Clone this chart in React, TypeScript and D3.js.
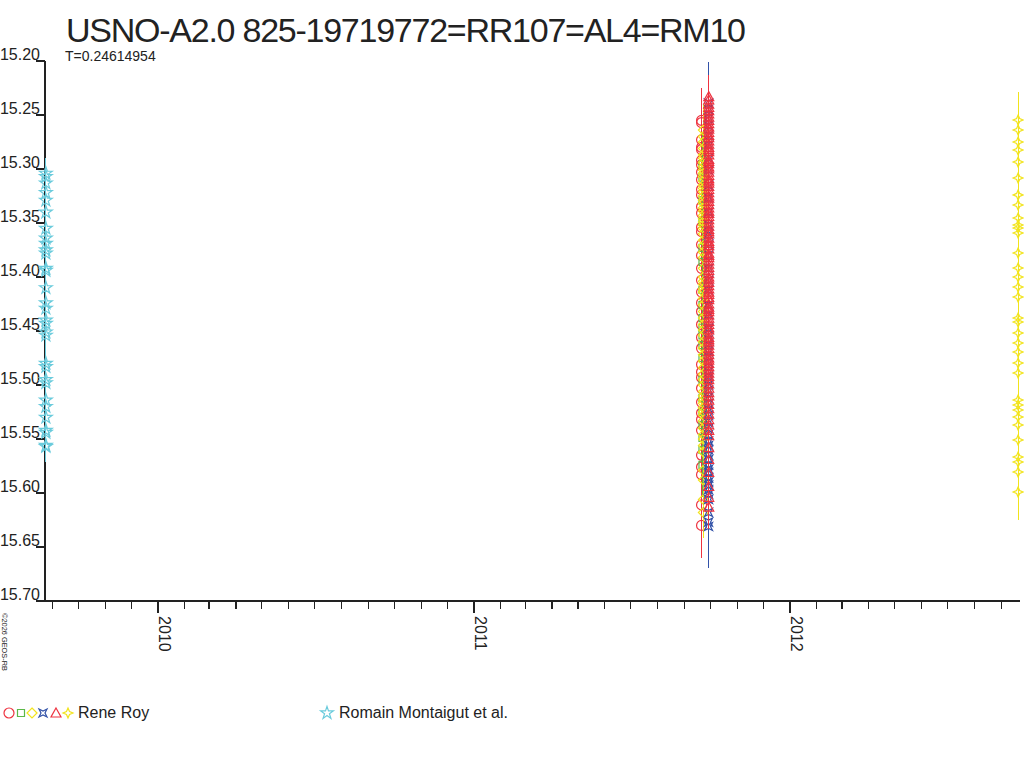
import * as d3 from "d3";

const TITLE = "USNO-A2.0 825-19719772=RR107=AL4=RM10";
const PERIOD_LABEL = "T=0.24614954";
const COPYRIGHT = "©2026 GEOS-RB";

const yTickValues = [15.2, 15.25, 15.3, 15.35, 15.4, 15.45, 15.5, 15.55, 15.6, 15.65, 15.7];
const xStart = "2009-08-23T12:00Z";
const xEnd = "2012-09-22T14:00Z";

// Romain Montaigut et al. (one night)
const rmDate = "2009-08-24T12:00Z";
const rmMags = [15.304, 15.307, 15.313, 15.322, 15.329, 15.34, 15.355, 15.364, 15.369, 15.375, 15.378, 15.392, 15.394, 15.41, 15.424, 15.429, 15.44, 15.443, 15.451, 15.454, 15.48, 15.483, 15.495, 15.498, 15.514, 15.52, 15.53, 15.542, 15.544, 15.556, 15.557];

// Rene Roy sessions
const rrCircleDate = "2011-09-20T19:00Z";
const rrCircleMags = [15.255, 15.257, 15.273, 15.28, 15.282, 15.292, 15.296, 15.303, 15.31, 15.319, 15.324, 15.335, 15.341, 15.354, 15.358, 15.37, 15.38, 15.392, 15.403, 15.414, 15.424, 15.432, 15.444, 15.456, 15.466, 15.481, 15.488, 15.493, 15.503, 15.516, 15.526, 15.532, 15.542, 15.565, 15.576, 15.583, 15.611, 15.63];

const rrSquareDate = "2011-09-21T21:00Z";
const rrSquareMags = [15.296, 15.308, 15.329, 15.349, 15.373, 15.386, 15.412, 15.426, 15.438, 15.447, 15.454, 15.463, 15.475, 15.495, 15.512, 15.525, 15.537, 15.549, 15.56, 15.574];

const rrDiamondDate = "2011-09-22T22:00Z";
const rrDiamondMags = [15.264, 15.27, 15.275, 15.281, 15.287, 15.29, 15.294, 15.298, 15.301, 15.304, 15.307, 15.311, 15.315, 15.318, 15.321, 15.325, 15.329, 15.332, 15.336, 15.339, 15.343, 15.346, 15.349, 15.352, 15.355, 15.36, 15.366, 15.371, 15.377, 15.382, 15.392, 15.4, 15.404, 15.407, 15.411, 15.414, 15.42, 15.426, 15.432, 15.438, 15.444, 15.449, 15.454, 15.46, 15.466, 15.472, 15.478, 15.484, 15.49, 15.495, 15.5, 15.506, 15.51, 15.514, 15.517, 15.521, 15.525, 15.528, 15.533, 15.54, 15.546, 15.55, 15.556, 15.562, 15.579, 15.588, 15.606, 15.618];

const rrCrossDate = "2011-09-28T20:00Z";
const rrCrossMags = [15.239, 15.245, 15.253, 15.26, 15.269, 15.278, 15.29, 15.301, 15.315, 15.327, 15.34, 15.352, 15.361, 15.37, 15.38, 15.392, 15.403, 15.412, 15.426, 15.435, 15.447, 15.448, 15.458, 15.462, 15.469, 15.474, 15.479, 15.488, 15.492, 15.5, 15.505, 15.512, 15.517, 15.523, 15.528, 15.534, 15.54, 15.546, 15.552, 15.556, 15.56, 15.565, 15.569, 15.574, 15.578, 15.581, 15.586, 15.59, 15.593, 15.597, 15.601, 15.606, 15.618, 15.627, 15.631];

const rrTriangleDate = "2011-09-29T02:00Z";
const rrTriangleMags = [15.233, 15.236, 15.24, 15.243, 15.246, 15.249, 15.252, 15.255, 15.258, 15.261, 15.263, 15.266, 15.269, 15.271, 15.274, 15.277, 15.28, 15.282, 15.284, 15.287, 15.291, 15.293, 15.295, 15.298, 15.3, 15.303, 15.306, 15.309, 15.311, 15.313, 15.316, 15.319, 15.322, 15.325, 15.327, 15.33, 15.333, 15.336, 15.339, 15.341, 15.344, 15.347, 15.35, 15.353, 15.356, 15.358, 15.36, 15.364, 15.367, 15.369, 15.371, 15.374, 15.378, 15.38, 15.382, 15.385, 15.388, 15.391, 15.394, 15.397, 15.4, 15.402, 15.405, 15.408, 15.411, 15.414, 15.416, 15.419, 15.421, 15.425, 15.428, 15.43, 15.432, 15.435, 15.438, 15.441, 15.444, 15.447, 15.449, 15.453, 15.456, 15.458, 15.46, 15.463, 15.466, 15.469, 15.472, 15.475, 15.477, 15.48, 15.483, 15.486, 15.489, 15.492, 15.495, 15.499, 15.503, 15.507, 15.51, 15.514, 15.518, 15.522, 15.527, 15.532, 15.537, 15.542, 15.547, 15.558, 15.569, 15.581, 15.594, 15.604, 15.613];

const rrStar4Date = "2012-09-20T10:00Z";
const rrStar4Mags = [15.2546, 15.2639, 15.275, 15.2824, 15.2935, 15.3083, 15.324, 15.3333, 15.3454, 15.3519, 15.3546, 15.3593, 15.3778, 15.3917, 15.4, 15.4093, 15.4185, 15.438, 15.4417, 15.4519, 15.4611, 15.4694, 15.4796, 15.4889, 15.5139, 15.5185, 15.5231, 15.5296, 15.537, 15.5509, 15.5667, 15.5713, 15.5806, 15.5991];

const RED = "#ee3340";
const GREEN = "#5cb848";
const YELLOW = "#f2e41c";
const BLUE = "#3252a8";
const CYAN = "#6acbdc";

function symbolPath(kind: string): string {
  switch (kind) {
    case "circle":
      return "M5,0A5,5 0 1,1 -5,0A5,5 0 1,1 5,0Z";
    case "square":
      return "M-3.5,-3.5H3.5V3.5H-3.5Z";
    case "diamond":
      return "M0,-5L5,0L0,5L-5,0Z";
    case "cross":
      return "M-4,-4L0,-2L4,-4L2,0L4,4L0,2L-4,4L-2,0Z";
    case "triangle":
      return "M0,-5L5,4L-5,4Z";
    case "star4":
      return "M0,-5L1.5,-1.5L5,0L1.5,1.5L0,5L-1.5,1.5L-5,0L-1.5,-1.5Z";
    default:
      return d3.symbol(d3.symbolStar, 50)() || "";
  }
}

const series = [
  { key: "rm", date: rmDate, mags: rmMags, err: 0.014, color: CYAN, kind: "star" },
  { key: "circle", date: rrCircleDate, mags: rrCircleMags, err: 0.03, color: RED, kind: "circle" },
  { key: "square", date: rrSquareDate, mags: rrSquareMags, err: 0.03, color: GREEN, kind: "square" },
  { key: "diamond", date: rrDiamondDate, mags: rrDiamondMags, err: 0.024, color: YELLOW, kind: "diamond" },
  { key: "cross", date: rrCrossDate, mags: rrCrossMags, err: 0.038, color: BLUE, kind: "cross" },
  { key: "triangle", date: rrTriangleDate, mags: rrTriangleMags, err: 0.02, color: RED, kind: "triangle" },
  { key: "star4", date: rrStar4Date, mags: rrStar4Mags, err: 0.026, color: YELLOW, kind: "star4" },
];

const FONT = "'Liberation Sans', Arial, sans-serif";

export default function App() {
  const width = 1024;
  const height = 768;

  const x = d3.scaleUtc().domain([new Date(xStart), new Date(xEnd)]).range([45, 1020]);
  const y = d3.scaleLinear().domain([15.2, 15.7]).range([61, 601]);

  const months = d3.utcMonth.range(new Date(xStart), new Date(xEnd));

  return (
    <div style={{ position: "absolute", left: 0, top: 0, width, height, background: "#fff" }}>
      <svg width={width} height={height} style={{ display: "block" }} fontFamily={FONT}>
        <rect width={width} height={height} fill="#fff" />

        <text x={66} y={42} fontSize={34} fill="#222" textLength={680} lengthAdjust="spacing">
          {TITLE}
        </text>
        <text x={65} y={61} fontSize={14} fill="#222">
          {PERIOD_LABEL}
        </text>

        {/* axes */}
        <g shapeRendering="crispEdges" stroke="#222" strokeWidth={1.2}>
          <line x1={45} x2={45} y1={y(15.2)} y2={y(15.7)} />
          <line x1={36} x2={1020} y1={y(15.7)} y2={y(15.7)} />
          {yTickValues.map((v) => (
            <line key={v} x1={36} x2={45} y1={y(v)} y2={y(v)} />
          ))}
          {months.map((m) => {
            const isYear = m.getUTCMonth() === 0;
            return <line key={+m} x1={x(m)} x2={x(m)} y1={y(15.7)} y2={y(15.7) + (isYear ? 12 : 8)} />;
          })}
        </g>
        {yTickValues.map((v) => (
          <text key={v} x={40} y={y(v) - 1} fontSize={16} textAnchor="end" fill="#222">
            {v.toFixed(2)}
          </text>
        ))}
        {months
          .filter((m) => m.getUTCMonth() === 0)
          .map((m) => (
            <text
              key={+m}
              transform={`translate(${x(m) + 1},${y(15.7) + 15}) rotate(90)`}
              fontSize={16}
              fill="#222"
            >
              {m.getUTCFullYear()}
            </text>
          ))}

        <text transform="translate(2,613) rotate(90)" fontSize={7.5} fill="#222" textLength={58} lengthAdjust="spacingAndGlyphs">
          {COPYRIGHT}
        </text>

        {/* data: error bars then symbols, one session after another */}
        {series.map((s) => {
          const cx = x(new Date(s.date));
          const path = symbolPath(s.kind);
          return (
            <g key={s.key}>
              {s.mags.map((m, i) => (
                <line
                  key={"e" + i}
                  x1={cx}
                  x2={cx}
                  y1={y(m - s.err)}
                  y2={y(m + s.err)}
                  stroke={s.color}
                  strokeWidth={1.2}
                  shapeRendering="crispEdges"
                />
              ))}
              {s.mags.map((m, i) => (
                <path
                  key={"p" + i}
                  d={path}
                  transform={`translate(${cx},${y(m)})`}
                  fill="none"
                  stroke={s.color}
                  strokeWidth={1.2}
                />
              ))}
            </g>
          );
        })}

        {/* legend */}
        {[
          { kind: "circle", color: RED, cx: 9 },
          { kind: "square", color: GREEN, cx: 21 },
          { kind: "diamond", color: YELLOW, cx: 32 },
          { kind: "cross", color: BLUE, cx: 43 },
          { kind: "triangle", color: RED, cx: 56 },
          { kind: "star4", color: YELLOW, cx: 68 },
          { kind: "star", color: CYAN, cx: 327 },
        ].map((l) => (
          <path
            key={l.kind}
            d={symbolPath(l.kind)}
            transform={`translate(${l.cx},713)`}
            fill="none"
            stroke={l.color}
            strokeWidth={1.2}
          />
        ))}
        <text x={78} y={718} fontSize={16} fill="#222">
          Rene Roy
        </text>
        <text x={339} y={718} fontSize={16} fill="#222">
          Romain Montaigut et al.
        </text>
      </svg>
    </div>
  );
}
